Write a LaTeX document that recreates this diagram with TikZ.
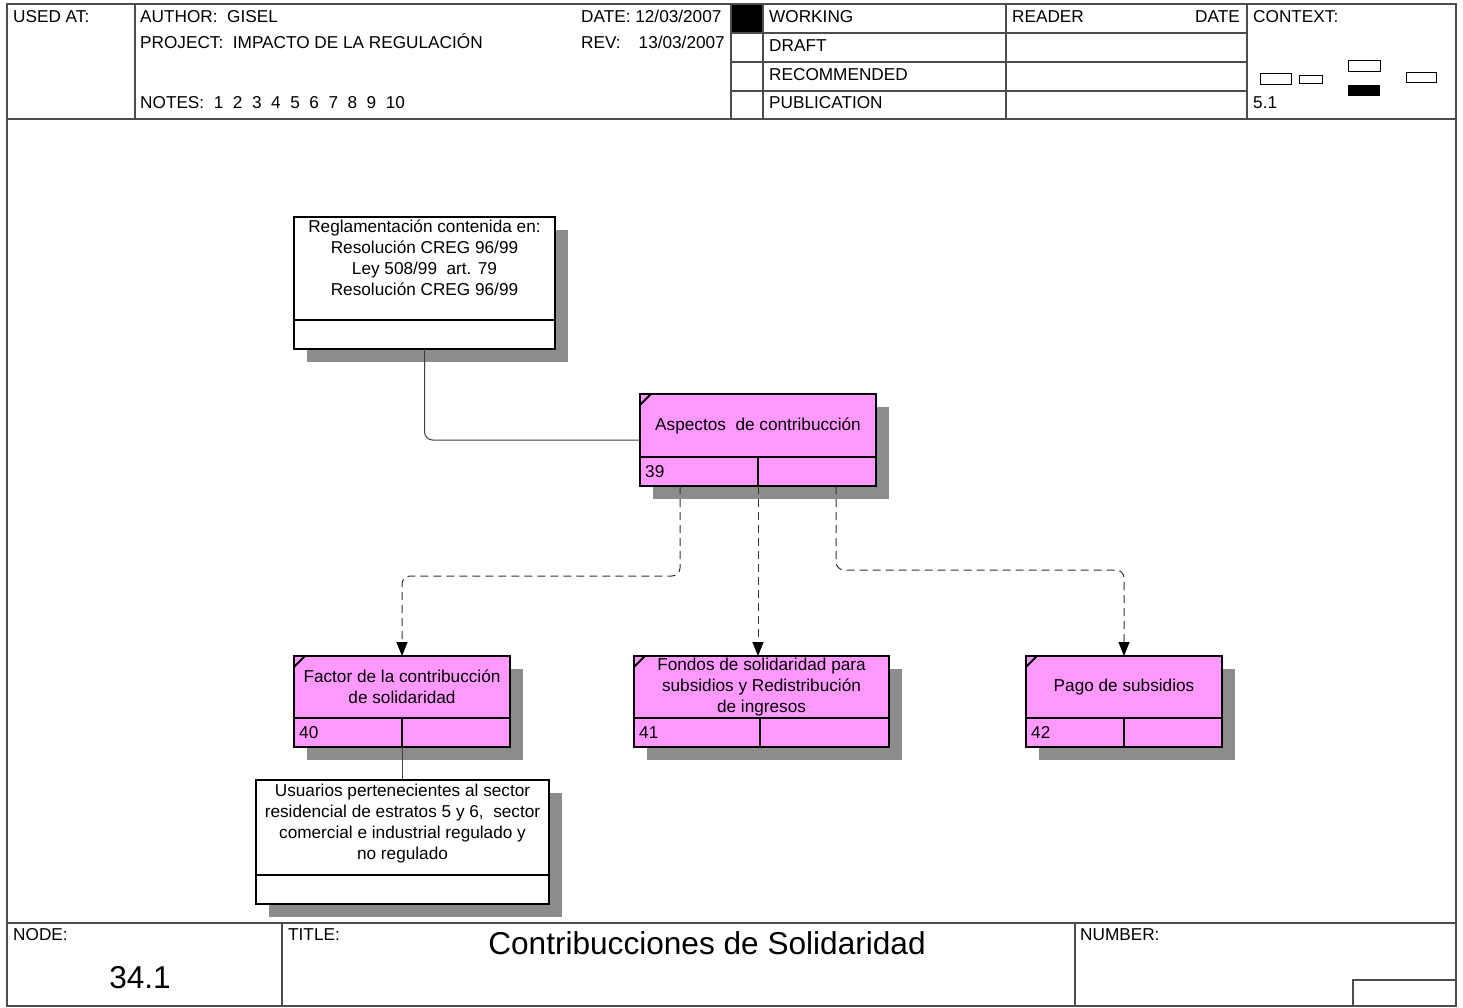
\documentclass[tikz,border=0pt]{standalone}
\usepackage{fontspec}
\setmainfont{Liberation Sans}
\usetikzlibrary{positioning, calc, shadows, arrows.meta}
\definecolor{idefpink}{RGB}{255,153,255}
\newcommand{\txtsize}{\fontsize{17.2}{21}\selectfont}
\newcommand{\bigsize}{\fontsize{31.6}{36}\selectfont}

\begin{document}
\begin{tikzpicture}[x=1pt, y=-1pt,
    frame/.style={draw=black!70, line width=1.3pt},
    lbl/.style={anchor=base west, inner sep=0pt, font=\txtsize},
    box/.style={draw, line width=2.5pt, inner sep=1pt, outer sep=0pt, align=center, font=\txtsize,
        drop shadow={shadow xshift=13pt, shadow yshift=-13pt, fill=black!45, opacity=1}},
    wbox/.style={box, fill=white},
    act/.style={box, fill=idefpink},
    cell/.style={minimum height=29pt},
    num/.style={anchor=west, inner sep=0pt, xshift=5pt, font=\txtsize},
    tick/.style={line width=2pt},
    link/.style={draw=black!75, line width=1pt, rounded corners=8pt},
    flow/.style={link, draw=black!80, dash pattern=on 8pt off 5pt,
        -{Triangle[length=14pt, width=11pt, color=black]}}]

\useasboundingbox (0,0) rectangle (1463,1008);

% header
\fill (731,4) rectangle (763,33);
\draw[frame] (7,4) rectangle (1456,1006);
\draw[frame] (7,119) -- (1456,119);
\draw[frame] (7,923) -- (1456,923);
\foreach \x in {135,731,763,1006,1247}
    \draw[frame] (\x,4) -- (\x,119);
\foreach \y in {33,62,91}
    \draw[frame] (731,\y) -- (1247,\y);

\node[lbl] (usedat) at (13,23) {USED AT:};
\node[lbl] (author) at (140,23) {AUTHOR:\ \ GISEL};
\node[lbl] (project) at (140,49) {PROJECT:\ \ IMPACTO DE LA REGULACIÓN};
\node[lbl] (notes) at (140,109) {NOTES:\ \ 1\ \ 2\ \ 3\ \ 4\ \ 5\ \ 6\ \ 7\ \ 8\ \ 9\ \ 10};
\node[lbl] (date) at (581,23) {DATE:\ 12/03/2007};
\node[lbl] (rev) at (581,49) {REV:\hspace{18pt}13/03/2007};
\foreach \s/\y in {WORKING/23, DRAFT/52, RECOMMENDED/81, PUBLICATION/109}
    \node[lbl] (\s) at (769,\y) {\s};
\node[lbl] (reader) at (1012,23) {READER};
\node[lbl, anchor=base east] (readdate) at (1240,23) {DATE};
\node[lbl] (context) at (1253,23) {CONTEXT:};
\node[lbl] (ctxnum) at (1253,109) {5.1};

% context icons
\draw[line width=1pt] (1260,74) rectangle (1291,85);
\draw[line width=1pt] (1299,76) rectangle (1322,84);
\draw[line width=1pt] (1348,61) rectangle (1380,72);
\fill (1348,85) rectangle (1380,96);
\draw[line width=1pt] (1406,73) rectangle (1436,83);

% footer
\draw[frame] (282,923) -- (282,1006);
\draw[frame] (1075,923) -- (1075,1006);
\draw[frame] (1353,1006) -- (1353,980) -- (1456,980);
\node[lbl] (nodelbl) at (13,940) {NODE:};
\node[anchor=base, inner sep=0pt, font=\bigsize] (nodenum) at (140,988) {34.1};
\node[lbl] (titlelbl) at (288,940) {TITLE:};
\node[anchor=base, inner sep=0pt, font=\bigsize] (title) at (707,954) {Contribucciones de Solidaridad};
\node[lbl] (numberlbl) at (1080,940) {NUMBER:};

% boxes
\node[wbox, minimum width=261pt, minimum height=103pt, text depth=21pt] (ref) at (424.5,268.5)
    {Reglamentación contenida en:\\Resolución CREG 96/99\\Ley 508/99\ \ art. 79\\Resolución CREG 96/99};
\node[wbox, cell, minimum width=261pt, anchor=north] (refc) at (ref.south) {};

\node[act, minimum width=236pt, minimum height=63pt] (a39) at (758,425.5) {Aspectos\ \ de contribucción};
\node[act, cell, minimum width=118pt, anchor=north west, label={[num]west:39}] (a39n) at (a39.south west) {};
\node[act, cell, minimum width=118pt, anchor=north east] (a39c) at (a39.south east) {};

\node[act, minimum width=216pt, minimum height=62pt] (a40) at (402,687) {Factor de la contribucción\\de solidaridad};
\node[act, cell, minimum width=108pt, anchor=north west, label={[num]west:40}] (a40n) at (a40.south west) {};
\node[act, cell, minimum width=108pt, anchor=north east] (a40c) at (a40.south east) {};

\node[act, minimum width=255pt, minimum height=62pt] (a41) at (761.5,687) {Fondos de solidaridad para\\subsidios y Redistribución\\de ingresos};
\node[act, cell, minimum width=126pt, anchor=north west, label={[num]west:41}] (a41n) at (a41.south west) {};
\node[act, cell, minimum width=129pt, anchor=north east] (a41c) at (a41.south east) {};

\node[act, minimum width=196pt, minimum height=62pt] (a42) at (1124,687) {Pago de subsidios};
\node[act, cell, minimum width=98pt, anchor=north west, label={[num]west:42}] (a42n) at (a42.south west) {};
\node[act, cell, minimum width=98pt, anchor=north east] (a42c) at (a42.south east) {};

\node[wbox, minimum width=293pt, minimum height=95pt, text depth=12pt] (us) at (402.5,827.5)
    {Usuarios pertenecientes al sector\\residencial de estratos 5 y 6,\ \ sector\\comercial e industrial regulado y\\no regulado};
\node[wbox, cell, minimum width=293pt, anchor=north] (usc) at (us.south) {};

\foreach \b in {a39,a40,a41,a42}
    \draw[tick] ([yshift=-11pt]\b.north west) -- ([xshift=11pt]\b.north west);

% connectors
\draw[link] (refc.south) |- ([yshift=-14.5pt]a39.west);
\draw[flow] ([xshift=40pt]a39n.south west) -- ++(0,90) -| (a40.north);
\draw[flow] (a39n.south east) -- (a39n.south east |- a41.north);
\draw[flow] ([xshift=-40pt]a39c.south east) -- ++(0,84) -| (a42.north);
\draw[link] (a40n.south east) -- (a40n.south east |- us.north);

\end{tikzpicture}
\end{document}
